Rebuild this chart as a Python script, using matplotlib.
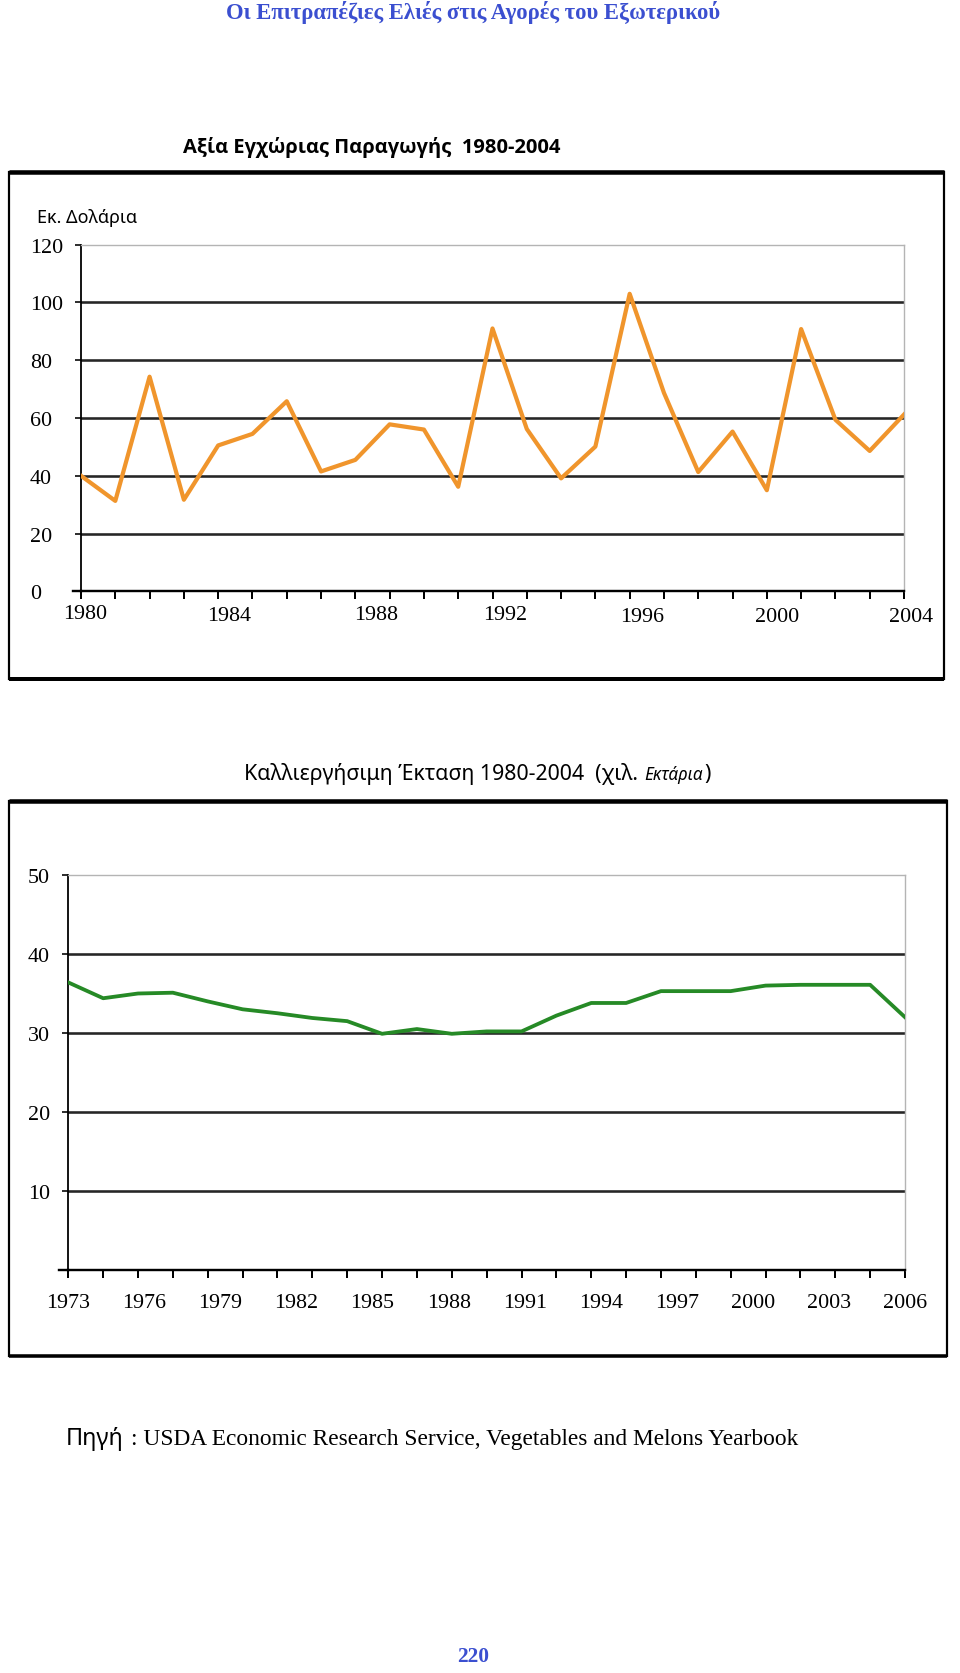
import matplotlib
matplotlib.use('Agg')
import matplotlib.pyplot as plt
from matplotlib.patches import Rectangle
from matplotlib.lines import Line2D
from matplotlib.transforms import ScaledTranslation

# ---------------- data ----------------
value_years = list(range(1980, 2005))
value_musd = [40, 31.3, 74.3, 31.7, 50.5, 54.5, 65.8, 41.5, 45.5, 57.8, 56, 36.2, 91,
              56.2, 39.1, 50.1, 103, 68.7, 41.3, 55.3, 35, 90.8, 59.4, 48.6, 61.2]
value_label_years = [1980, 1984, 1988, 1992, 1996, 2000, 2004]
value_yticks = [0, 20, 40, 60, 80, 100, 120]

area_years = list(range(1980, 2005))
area_kha = [36.4, 34.4, 35.0, 35.1, 34.0, 33.0, 32.5, 31.9, 31.5, 29.9, 30.5, 29.9, 30.2,
            30.2, 32.2, 33.8, 33.8, 35.3, 35.3, 35.3, 36.0, 36.1, 36.1, 36.1, 32.0]
area_label_years = [1973, 1976, 1979, 1982, 1985, 1988, 1991, 1994, 1997, 2000, 2003, 2006]
area_yticks = [10, 20, 30, 40, 50]

header_text = 'Οι Επιτραπέζιες Ελιές στις Αγορές του Εξωτερικού'
title1_text = 'Αξία Εγχώριας Παραγωγής  1980-2004'
ylabel1_text = 'Εκ. Δολάρια'
title2_main = 'Καλλιεργήσιμη Έκταση 1980-2004  (χιλ.'
title2_unit = 'Εκτάρια'
title2_close = ')'
source_lead = 'Πηγή'
source_rest = ': USDA Economic Research Service, Vegetables and Melons Yearbook'
page_text = '220'

# ---------------- style ----------------
W, H = 960, 1674
SERIF = ['Liberation Serif', 'DejaVu Serif']
SANS = ['Noto Sans', 'DejaVu Sans']
SANS_BOLD = ['Open Sans', 'Roboto', 'DejaVu Sans']
BLUE = '#3b4fd0'
ORANGE = '#f0952c'
GREEN = '#268a26'
GRID = '#262626'
PX = 72.0 / 100.0   # points per pixel at dpi 100

plt.rcParams['font.family'] = SERIF
fig = plt.figure(figsize=(W / 100, H / 100), dpi=100)
fig.patch.set_facecolor('white')
renderer = fig.canvas.get_renderer()


def fx(x):
    return x / W


def fy(y):
    return 1 - y / H


def fit_text(s, target_w, x_c, y, va='baseline', **kw):
    t = fig.text(fx(x_c), fy(y), s, ha='center', va=va, **kw)
    w = t.get_window_extent(renderer).width
    t.set_fontsize(t.get_fontsize() * target_w / w)
    return t


def chain_text(pieces, gaps, left, right, baseline):
    objs = []
    for s, kw in pieces:
        objs.append(fig.text(0, fy(baseline), s, ha='left', va='baseline', **kw))
    widths = [t.get_window_extent(renderer).width for t in objs]
    scale = (right - left - sum(gaps)) / sum(widths)
    for t in objs:
        t.set_fontsize(t.get_fontsize() * scale)
    widths = [t.get_window_extent(renderer).width for t in objs]
    x = left
    for i, t in enumerate(objs):
        t.set_x(fx(x))
        x += widths[i] + (gaps[i] if i < len(gaps) else 0)
    return objs


def draw_box(x0, y0, x1, y1, top_lw, bot_lw):
    fig.add_artist(Rectangle((fx(x0), fy(y1)), fx(x1) - fx(x0), fy(y0) - fy(y1),
                             transform=fig.transFigure, fill=False,
                             edgecolor='black', lw=2.2 * PX))
    fig.add_artist(Line2D([fx(x0), fx(x1)], [fy(y0), fy(y0)], transform=fig.transFigure,
                          color='black', lw=top_lw * PX, solid_capstyle='butt'))
    fig.add_artist(Line2D([fx(x0), fx(x1)], [fy(y1), fy(y1)], transform=fig.transFigure,
                          color='black', lw=bot_lw * PX, solid_capstyle='butt'))


def style_axes(ax, grid_vals, ytick_left_px, axis_left_px, ext_px, axis_w_px):
    for v in grid_vals:
        ax.axhline(v, color=GRID, lw=2.6 * PX, zorder=1)
    ax.spines['top'].set_color('#b4b4b4')
    ax.spines['right'].set_color('#b4b4b4')
    ax.spines['top'].set_linewidth(1.4 * PX)
    ax.spines['right'].set_linewidth(1.4 * PX)
    ax.spines['left'].set_linewidth(1.8 * PX)
    ax.spines['bottom'].set_linewidth(2.4 * PX)
    ax.add_line(Line2D([-ext_px / axis_w_px, 0], [0, 0], transform=ax.transAxes,
                       color='black', lw=2.4 * PX, clip_on=False))
    ticklen = 6
    ax.tick_params(axis='y', direction='out', length=ticklen * PX, width=1.6 * PX,
                   labelsize=15.8,
                   pad=(axis_left_px - ytick_left_px) * PX - ticklen * PX)
    for lab in ax.get_yticklabels():
        lab.set_horizontalalignment('left')
    ax.tick_params(axis='x', direction='out', length=8 * PX, width=2 * PX)


# ---------------- header ----------------
fit_text(header_text, 495, 473.5, 12, va='center', fontsize=15,
         fontweight='bold', color=BLUE, family=SERIF)

# ---------------- chart 1 ----------------
draw_box(8.5, 172.7, 944, 680, 4.5, 4)
fit_text(title1_text, 376, 372, 153, fontsize=13, fontweight='bold', family=SANS_BOLD)
t = fig.text(fx(37), fy(223), ylabel1_text, ha='left', va='baseline', fontsize=12, family=SANS)
t.set_fontsize(12 * 100 / t.get_window_extent(renderer).width)

ax1_l, ax1_r, ax1_y0, ax1_ytop = 81, 904, 592.3, 245.7
ax1 = fig.add_axes([fx(ax1_l), fy(ax1_y0), (ax1_r - ax1_l) / W, (ax1_y0 - ax1_ytop) / H])
ax1.set_xlim(value_years[0], value_years[-1])
ax1.set_ylim(value_yticks[0], value_yticks[-1])
ax1.plot(value_years, value_musd, color=ORANGE, lw=4.2 * PX, zorder=3,
         solid_joinstyle='round')
ax1.set_yticks(value_yticks)
ax1.set_xticks(value_years)
ax1.set_xticklabels([str(y) if y in value_label_years else '' for y in value_years])
style_axes(ax1, value_yticks[1:-1], 30, ax1_l, 8, ax1_r - ax1_l)
ax1.tick_params(axis='x', labelsize=15.8, pad=5 * PX)
# small nudges of the year labels, as in the original (pixels right, pixels down)
nudges1 = {1980: (4, 0), 1984: (11, 2), 1988: (21, 1), 1992: (13, 1),
           1996: (12, 3), 2000: (10, 3), 2004: (7, 3)}
for y, lab in zip(value_years, ax1.get_xticklabels()):
    if y in nudges1:
        dx, dy = nudges1[y]
        lab.set_transform(lab.get_transform() +
                          ScaledTranslation(dx / 100, -dy / 100, fig.dpi_scale_trans))

# ---------------- chart 2 ----------------
draw_box(8.5, 802, 947, 1357, 4.5, 3.5)
chain_text([(title2_main, dict(fontsize=13, family=SANS)),
            (title2_unit, dict(fontsize=10.5, family=SANS, style='italic')),
            (title2_close, dict(fontsize=13, family=SANS))],
           [6, 1], 244.5, 713, 780)

ax2_l, ax2_r, ax2_y0, ax2_ytop = 68.3, 905, 1271, 876
ax2 = fig.add_axes([fx(ax2_l), fy(ax2_y0), (ax2_r - ax2_l) / W, (ax2_y0 - ax2_ytop) / H])
ax2.set_xlim(area_years[0], area_years[-1])
ax2.set_ylim(0, area_yticks[-1])
ax2.plot(area_years, area_kha, color=GREEN, lw=3.8 * PX, zorder=3)
ax2.set_yticks(area_yticks)
ax2.set_xticks(area_years)
ax2.set_xticklabels([])
style_axes(ax2, area_yticks[:-1], 28, ax2_l, 9, ax2_r - ax2_l)

span_data = area_years[-1] - area_years[0]
span_lab = area_label_years[-1] - area_label_years[0]


def to_lab(x):
    return area_label_years[0] + (x - area_years[0]) * span_lab / span_data


def from_lab(x):
    return area_years[0] + (x - area_label_years[0]) * span_data / span_lab


sec = ax2.secondary_xaxis('bottom', functions=(to_lab, from_lab))
sec.set_xticks(area_label_years)
sec.set_xticklabels([str(y) for y in area_label_years])
sec.tick_params(length=0, labelsize=15.8, pad=23 * PX)
sec.spines['bottom'].set_visible(False)

# ---------------- footer ----------------
chain_text([(source_lead, dict(fontsize=15, family=SANS)),
            (source_rest, dict(fontsize=15, family=SERIF))],
           [7], 66, 801, 1445)

fit_text(page_text, 32, 473, 1657, va='center', fontsize=15, fontweight='bold',
         color=BLUE, family=SERIF)

fig.savefig('out.png', dpi=100, facecolor='white')
